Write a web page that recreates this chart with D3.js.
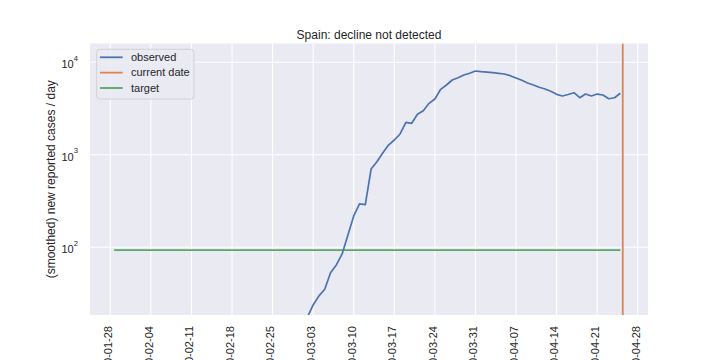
<!DOCTYPE html>
<html>
<head>
<meta charset="utf-8">
<script src="https://cdn.jsdelivr.net/npm/d3@7"></script>
<style>
  html, body { margin: 0; padding: 0; background: #ffffff; }
  svg { display: block; font-family: "Liberation Sans", Arial, sans-serif; }
</style>
</head>
<body>
<svg id="chart" width="720" height="360"></svg>
<script>
// ---- data ----
const titleText = "Spain: decline not detected";
const yLabelText = "(smoothed) new reported cases / day";
const xTickLabels = ["2020-01-28","2020-02-04","2020-02-11","2020-02-18","2020-02-25","2020-03-03",
  "2020-03-10","2020-03-17","2020-03-24","2020-03-31","2020-04-07","2020-04-14","2020-04-21","2020-04-28"];
const yTickExponents = [2, 3, 4];
const observedStart = "2020-03-01";
const observedValues = [
  12, 17.5, 23.8, 29.8, 35.2, 53.1, 64.4, 84.7, 136, 218,          // 03-01 .. 03-10
  294, 289, 702, 841, 1046, 1275, 1445, 1679, 2246, 2191,           // 03-11 .. 03-20
  2740, 2998, 3603, 4013, 5105, 5685, 6437, 6822, 7296, 7609,       // 03-21 .. 03-30
  8055, 7913, 7815, 7725, 7609, 7479, 7166, 6761, 6385, 5969,       // 03-31 .. 04-09
  5685, 5370, 5143, 4855, 4506, 4324, 4487, 4691, 4140, 4538,       // 04-10 .. 04-19
  4324, 4538, 4427, 4039, 4140, 4624                                // 04-20 .. 04-25
];
const targetDates = ["2020-01-28T16:00:00Z", "2020-04-25T00:00:00Z"];
const targetValue = 93;
const currentDate = "2020-04-25T10:00:00Z";
const legendLabels = ["observed", "current date", "target"];
const colors = { observed: "#4C72B0", current: "#DD8452", target: "#55A868" };

// ---- layout ----
const W = 720, H = 360;
const plot = { left: 90, right: 648, top: 43.5, bottom: 315 };
const textColor = "#262626";

const svg = d3.select("#chart");

const x = d3.scaleUtc()
  .domain([new Date(Date.UTC(2020, 0, 24, 12)), new Date(Date.UTC(2020, 3, 29, 18, 30))])
  .range([plot.left, plot.right]);
const y = d3.scaleLog()
  .domain([18.53, 15970])
  .range([plot.bottom, plot.top]);

const parse = s => new Date(s.length === 10 ? s + "T00:00:00Z" : s);

// background
svg.append("rect")
  .attr("x", plot.left).attr("y", plot.top)
  .attr("width", plot.right - plot.left).attr("height", plot.bottom - plot.top)
  .attr("fill", "#EAEAF2");

svg.append("clipPath").attr("id", "clip")
  .append("rect")
  .attr("x", plot.left).attr("y", plot.top)
  .attr("width", plot.right - plot.left).attr("height", plot.bottom - plot.top);

// grid
const xTicks = xTickLabels.map(parse);
const yTicks = yTickExponents.map(e => Math.pow(10, e));
const grid = svg.append("g").attr("stroke", "#ffffff").attr("stroke-width", 1.1);
grid.selectAll("line.gx").data(xTicks).join("line")
  .attr("x1", d => x(d)).attr("x2", d => x(d))
  .attr("y1", plot.top).attr("y2", plot.bottom);
grid.selectAll("line.gy").data(yTicks).join("line")
  .attr("x1", plot.left).attr("x2", plot.right)
  .attr("y1", d => y(d)).attr("y2", d => y(d));

// data lines
const g = svg.append("g").attr("clip-path", "url(#clip)");
const obsDates = d3.utcDay.range(parse(observedStart), d3.utcDay.offset(parse(observedStart), observedValues.length));
const obsData = obsDates.map((d, i) => ({ date: d, value: observedValues[i] }));
const line = d3.line().x(d => x(d.date)).y(d => y(d.value));

g.append("path")
  .datum(targetDates.map(s => ({ date: parse(s), value: targetValue })))
  .attr("d", line).attr("fill", "none")
  .attr("stroke", colors.target).attr("stroke-width", 1.8);

g.append("path")
  .datum(obsData)
  .attr("d", line).attr("fill", "none")
  .attr("stroke", colors.observed).attr("stroke-width", 1.7)
  .attr("stroke-linejoin", "round");

g.append("line")
  .attr("x1", x(parse(currentDate))).attr("x2", x(parse(currentDate)))
  .attr("y1", plot.top).attr("y2", plot.bottom)
  .attr("stroke", colors.current).attr("stroke-width", 1.8);

// x tick labels (rotated)
svg.append("g").selectAll("text").data(xTickLabels).join("text")
  .attr("transform", d => `translate(${x(parse(d))},326) rotate(-90)`)
  .attr("dy", 1.8)
  .attr("text-anchor", "end")
  .attr("font-size", 11)
  .attr("fill", textColor)
  .text(d => d);

// y tick labels 10^n
const yt = svg.append("g").selectAll("text").data(yTickExponents).join("text")
  .attr("x", 78)
  .attr("y", d => y(Math.pow(10, d)) + 6)
  .attr("text-anchor", "end")
  .attr("fill", textColor)
  .attr("font-size", 11);
yt.append("tspan").text("10");
yt.append("tspan").attr("dy", -7.4).attr("font-size", 7.7).text(d => d);

// y label
svg.append("text")
  .attr("transform", `translate(55,${(plot.top + plot.bottom) / 2}) rotate(-90)`)
  .attr("text-anchor", "middle")
  .attr("font-size", 12)
  .attr("fill", textColor)
  .text(yLabelText);

// title
svg.append("text")
  .attr("x", (plot.left + plot.right) / 2).attr("y", 38.5)
  .attr("text-anchor", "middle")
  .attr("font-size", 12)
  .attr("fill", textColor)
  .text(titleText);

// legend
const lg = svg.append("g");
lg.append("rect")
  .attr("x", 96.7).attr("y", 49.3).attr("width", 97.3).attr("height", 49.7)
  .attr("rx", 3).attr("ry", 3)
  .attr("fill", "#EAEAF2").attr("fill-opacity", 0.8)
  .attr("stroke", "#CCCCCC").attr("stroke-width", 0.8);
const legendColors = [colors.observed, colors.current, colors.target];
legendLabels.forEach((lab, i) => {
  const cy = 57.3 + i * 15.35;
  lg.append("line")
    .attr("x1", 100).attr("x2", 122.7).attr("y1", cy).attr("y2", cy)
    .attr("stroke", legendColors[i]).attr("stroke-width", 1.8);
  lg.append("text")
    .attr("x", 131).attr("y", cy + 3.5)
    .attr("font-size", 11).attr("fill", textColor)
    .text(lab);
});
</script>
</body>
</html>
